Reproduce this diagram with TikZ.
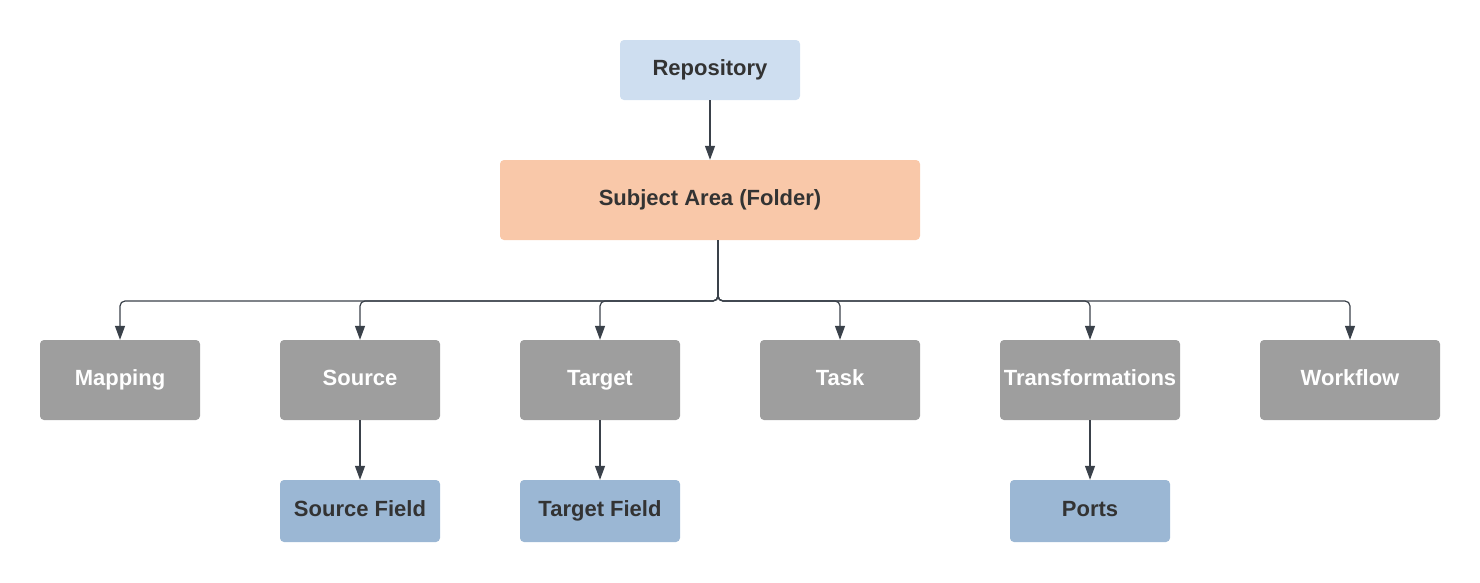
\documentclass[tikz,border=0pt]{standalone}
\usepackage{fontspec}
\setmainfont{Liberation Sans}
\usetikzlibrary{arrows.meta}
\definecolor{repoc}{HTML}{CEDEF0}
\definecolor{subjc}{HTML}{F9C8A9}
\definecolor{grayc}{HTML}{9E9E9E}
\definecolor{fieldc}{HTML}{9BB7D4}
\definecolor{txtc}{HTML}{333333}
\definecolor{linec}{HTML}{3A414A}
\begin{document}
\begin{tikzpicture}[x=1pt,y=-1pt,
  box/.style={rounded corners=4pt, inner sep=0pt, text height=15.5pt, text depth=4pt, font=\bfseries\fontsize{22}{26}\selectfont},
  lightbox/.style={box, fill=repoc, text=txtc},
  subjbox/.style={box, fill=subjc, text=txtc},
  graybox/.style={box, fill=grayc, text=white},
  fieldbox/.style={box, fill=fieldc, text=txtc},
  conn/.style={draw=linec, line width=1.2pt, -{Triangle[width=10pt,length=14pt]}},
  busline/.style={draw=linec, line width=1.2pt, rounded corners=5pt, -{Triangle[width=10pt,length=14pt]}}
]
\useasboundingbox (0,0) rectangle (1480,582);
\node[lightbox, minimum width=180pt, minimum height=60pt] (repo) at (710,70) {Repository};
\node[subjbox, minimum width=420pt, minimum height=80pt] (subj) at (710,200) {Subject Area (Folder)};
\node[graybox, minimum width=160pt, minimum height=80pt] (map) at (120,380) {Mapping};
\node[graybox, minimum width=160pt, minimum height=80pt] (src) at (360,380) {Source};
\node[graybox, minimum width=160pt, minimum height=80pt] (tgt) at (600,380) {Target};
\node[graybox, minimum width=160pt, minimum height=80pt] (task) at (840,380) {Task};
\node[graybox, minimum width=180pt, minimum height=80pt] (trans) at (1090,380) {Transformations};
\node[graybox, minimum width=180pt, minimum height=80pt] (wf) at (1350,380) {Workflow};
\node[fieldbox, minimum width=160pt, minimum height=62pt] (srcf) at (360,511) {Source Field};
\node[fieldbox, minimum width=160pt, minimum height=62pt] (tgtf) at (600,511) {Target Field};
\node[fieldbox, minimum width=160pt, minimum height=62pt] (ports) at (1090,511) {Ports};
\coordinate (trunk) at (718,240);
\draw[conn] (repo.south) -- (subj.north);
\foreach \t in {map,src,tgt,task,trans,wf}{
  \draw[busline] (trunk) -- (trunk |- 0,301) -| (\t.north);
}
\draw[conn] (src.south) -- (srcf.north);
\draw[conn] (tgt.south) -- (tgtf.north);
\draw[conn] (trans.south) -- (ports.north);
\end{tikzpicture}
\end{document}
